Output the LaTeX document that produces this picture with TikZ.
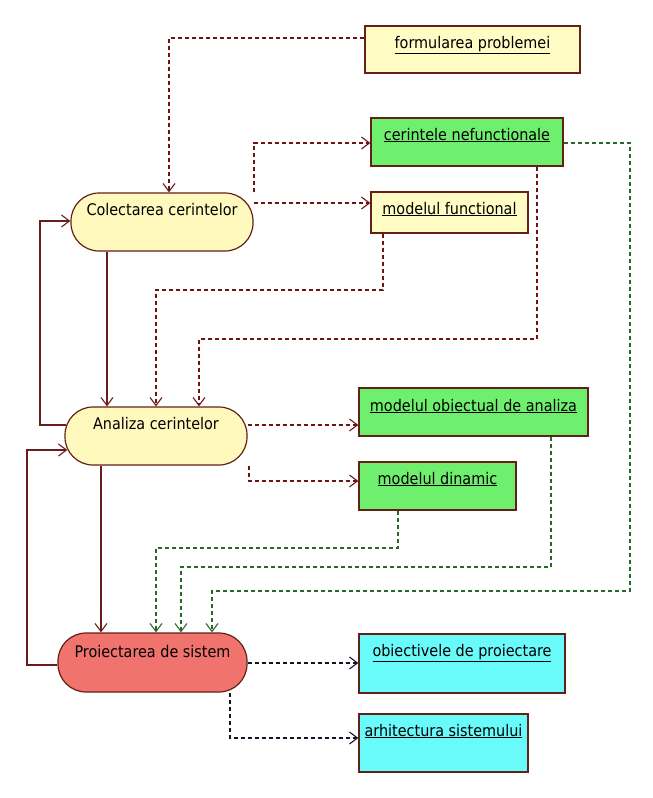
\documentclass[tikz,border=0pt]{standalone}
\usepackage{fontspec}
\setmainfont{DejaVu Sans Condensed}
\usetikzlibrary{arrows.meta}
\definecolor{bordercol}{RGB}{100,32,22}
\definecolor{rline}{RGB}{110,20,20}
\definecolor{gline}{RGB}{40,105,40}
\definecolor{kline}{RGB}{20,20,40}
\definecolor{sline}{RGB}{105,28,28}
\definecolor{yfill}{RGB}{255,252,196}
\definecolor{syfill}{RGB}{255,249,190}
\definecolor{gfill}{RGB}{110,240,110}
\definecolor{cfill}{RGB}{105,250,250}
\definecolor{rfill}{RGB}{240,115,110}
\tikzset{
  base/.style={draw=bordercol, line width=1.2pt, inner sep=0pt, text height=11pt,
    font=\fontsize{16}{19}\selectfont, text=black},
  rbox/.style={base},
  stad/.style={base, rounded corners=28pt},
  td/.style={text depth=#1pt},
  sz/.style 2 args={minimum width=#1pt, minimum height=#2pt},
  tip/.style={-{Straight Barb[length=8pt,width=12pt,line width=1.1pt]}},
  rdash/.style={draw=rline, line width=1.2pt, dash pattern=on 4pt off 3pt, tip},
  gdash/.style={draw=gline, line width=1.2pt, dash pattern=on 4pt off 3pt, tip},
  kdash/.style={draw=kline, line width=1.2pt, dash pattern=on 4pt off 3pt, tip},
  rsolid/.style={draw=sline, line width=1.2pt, tip},
}
\begin{document}
\begin{tikzpicture}[x=1pt,y=-1pt]
\useasboundingbox[fill=white] (0,0) rectangle (653,798);
% nodes
\node[rbox, fill=yfill, sz={215}{47}, td=14] (fp) at (472.5,49.5) {\underline{formularea problemei}};
\node[rbox, fill=gfill, sz={192}{48}, td=15] (cn) at (467,142) {\underline{cerintele nefunctionale}};
\node[rbox, fill=yfill, sz={157}{41}, td=8] (mf) at (449.5,212.5) {\underline{modelul functional}};
\node[stad, fill=syfill, sz={182}{58}, td=25] (cc) at (162,222) {Colectarea cerintelor};
\node[stad, fill=syfill, sz={182}{58}, td=25] (ac) at (156,436) {Analiza cerintelor};
\node[rbox, fill=gfill, sz={229}{48}, td=13] (mo) at (473.5,412) {\underline{modelul obiectual de analiza}};
\node[rbox, fill=gfill, sz={157}{48}, td=15] (md) at (437.5,486) {\underline{modelul dinamic}};
\node[stad, fill=rfill, sz={189}{59}, td=22] (ps) at (152.5,662.5) {Proiectarea de sistem};
\node[rbox, fill=cfill, sz={206}{59}, td=26] (op) at (462,663.5) {\underline{obiectivele de proiectare}};
\node[rbox, fill=cfill, sz={169}{58}, td=25] (as) at (443.5,743) {\underline{arhitectura sistemului}};
% dark red dashed dependencies
\draw[rdash] (fp.west |- 0,38) -| (169,0 |- cc.north);
\draw[rdash] (254,0 |- cc.north) |- (cn.west |- 0,143);
\draw[rdash] (cc.east |- 0,203) -- (mf.west |- 0,203);
\draw[rdash] (383,0 |- mf.south) -- (383,290) -| (156,0 |- ac.north);
\draw[rdash] (537,0 |- cn.south) -- (537,339) -| (199,0 |- ac.north);
\draw[rdash] (ac.east |- 0,425) -- (mo.west |- 0,425);
\draw[rdash] (249,0 |- ac.south) |- (md.west |- 0,481);
% solid flow
\draw[rsolid] (107,0 |- cc.south) -- (107,0 |- ac.north);
\draw[rsolid] ([xshift=2pt]ac.west |- 0,425) -- (40,425) |- (cc.west |- 0,221);
\draw[rsolid] (101,0 |- ac.south) -- (101,0 |- ps.north);
\draw[rsolid] (ps.west |- 0,665) -- (27,665) |- ([xshift=3pt]ac.west |- 0,450);
% green dashed
\draw[gdash] (398,0 |- md.south) -- (398,548) -| (156,0 |- ps.north);
\draw[gdash] (551,0 |- mo.south) -- (551,567) -| (181,0 |- ps.north);
\draw[gdash] (cn.east |- 0,143) -- (630,143) -- (630,591) -| (212,0 |- ps.north);
% black dashed
\draw[kdash] (ps.east |- 0,663) -- (op.west |- 0,663);
\draw[kdash] (230,0 |- ps.south) |- (as.west |- 0,738);
\end{tikzpicture}
\end{document}
